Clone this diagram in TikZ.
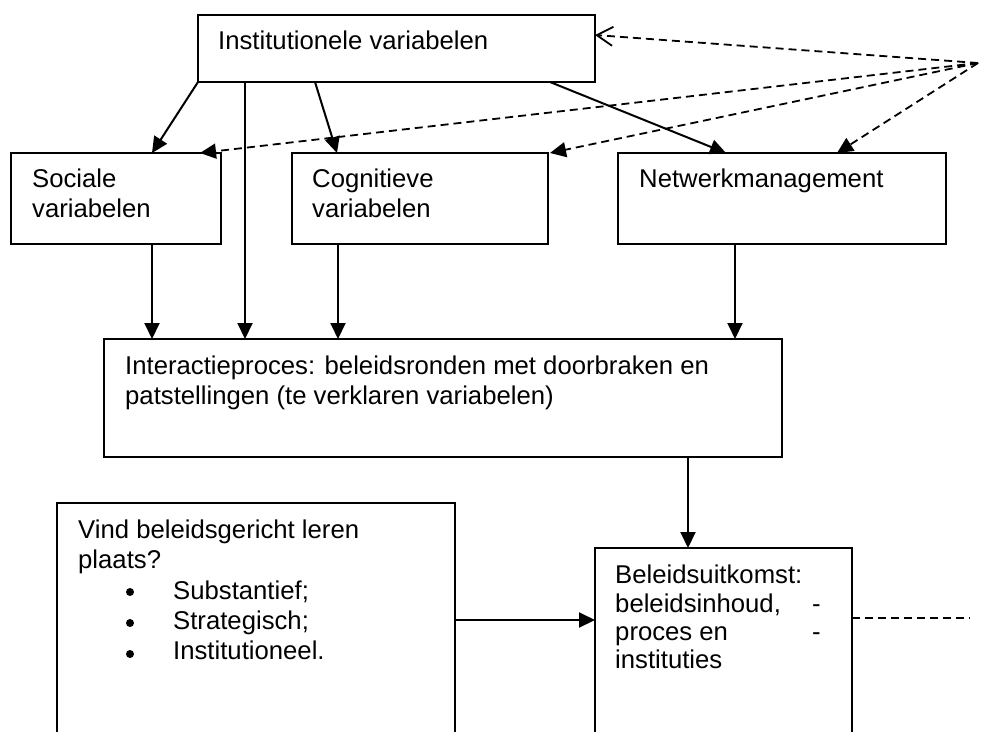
\documentclass[tikz,border=0pt]{standalone}
\usepackage{fontspec}
\setmainfont{Liberation Sans}
\usetikzlibrary{arrows.meta}
\begin{document}
\begin{tikzpicture}[x=1pt,y=-1pt,
  box/.style={draw, line width=1.8pt, rectangle, outer sep=0pt, inner sep=0pt, anchor=north west},
  lbl/.style={anchor=base west, inner sep=0pt, font=\fontsize{25.7}{30.5}\selectfont},
  arr/.style={line width=2pt, -{Triangle[length=16pt,width=15pt]}},
  darr/.style={line width=1.8pt, dash pattern=on 8pt off 5pt, -{Triangle[length=16pt,width=15pt]}},
  oarr/.style={line width=1.8pt, dash pattern=on 8pt off 5pt, -{Straight Barb[length=16pt,width=19pt,line width=1.8pt]}},
  dline/.style={line width=1.8pt, dash pattern=on 8pt off 5pt},
  dot/.style={circle, fill, inner sep=0pt, minimum size=8pt}]
\useasboundingbox (0,0) rectangle (984,731);
\clip (0,0) rectangle (984,731);

% boxes
\node[box, minimum width=397pt, minimum height=67pt] (inst) at (198,15) {};
\node[box, minimum width=210pt, minimum height=91pt] (soc) at (11,153) {};
\node[box, minimum width=256pt, minimum height=91pt] (cog) at (292,153) {};
\node[box, minimum width=328pt, minimum height=91pt] (net) at (618,153) {};
\node[box, minimum width=678pt, minimum height=118pt] (inter) at (104,339) {};
\node[box, minimum width=398pt, minimum height=260pt] (vind) at (57,503) {};
\node[box, minimum width=257pt, minimum height=215pt] (uit) at (595,548) {};
\coordinate (src) at (978,63);
\coordinate (tail) at (970,618);

% texts
\node[lbl] (tInst) at (218,49) {Institutionele variabelen};
\node[lbl] (tSoc1) at (32,187) {Sociale};
\node[lbl] (tSoc2) at (32,217) {variabelen};
\node[lbl] (tCog1) at (312,187) {Cognitieve};
\node[lbl] (tCog2) at (312,217) {variabelen};
\node[lbl] (tNet) at (639,187) {Netwerkmanagement};
\node[lbl] (tInt1) at (125,374) {Interactieproces: beleidsronden met doorbraken en};
\node[lbl] (tInt2) at (125,404) {patstellingen (te verklaren variabelen)};
\node[lbl] (tVin1) at (78,538) {Vind beleidsgericht leren};
\node[lbl] (tVin2) at (78,568) {plaats?};
\node[dot] (b1) at (130,592) {};
\node[dot] (b2) at (130,623) {};
\node[dot] (b3) at (130,654) {};
\node[lbl] (tVin3) at (173,599) {Substantief;};
\node[lbl] (tVin4) at (173,629) {Strategisch;};
\node[lbl] (tVin5) at (173,659) {Institutioneel.};
\node[lbl] (tUit1) at (615,583) {Beleidsuitkomst:};
\node[lbl] (tUit2) at (615,612) {beleidsinhoud,};
\node[lbl] (tUit3) at (615,640) {proces en};
\node[lbl] (tUit4) at (615,668) {instituties};
\node[lbl] (tD1) at (812,612) {-};
\node[lbl] (tD2) at (812,640) {-};

% solid connectors
\draw[arr] (inst.south west) -- ([xshift=141pt]soc.north west);
\draw[arr] ([xshift=47pt]inst.south west) -- ([xshift=141pt]inter.north west);
\draw[arr] ([xshift=117pt]inst.south west) -- ([xshift=45pt]cog.north west);
\draw[arr] ([xshift=352pt]inst.south west) -- ([xshift=108pt]net.north west);
\draw[arr] ([xshift=141pt]soc.south west) -- ([xshift=48pt]inter.north west);
\draw[arr] ([xshift=46pt]cog.south west) -- ([xshift=234pt]inter.north west);
\draw[arr] ([xshift=117pt]net.south west) -- ([xshift=631pt]inter.north west);
\draw[arr] ([xshift=584pt]inter.south west) -- ([xshift=93pt]uit.north west);
\draw[arr] (vind.east |- 0,620) -- (uit.west |- 0,620);

% dashed connectors
\draw[oarr] (src) -- ([yshift=-20pt]inst.north east);
\draw[darr] (src) -- ([xshift=-21pt]soc.north east);
\draw[darr] (src) -- ([xshift=2pt]cog.north east);
\draw[darr] (src) -- ([xshift=219pt]net.north west);
\draw[dline] (uit.east |- tail) -- (tail);
\end{tikzpicture}
\end{document}
